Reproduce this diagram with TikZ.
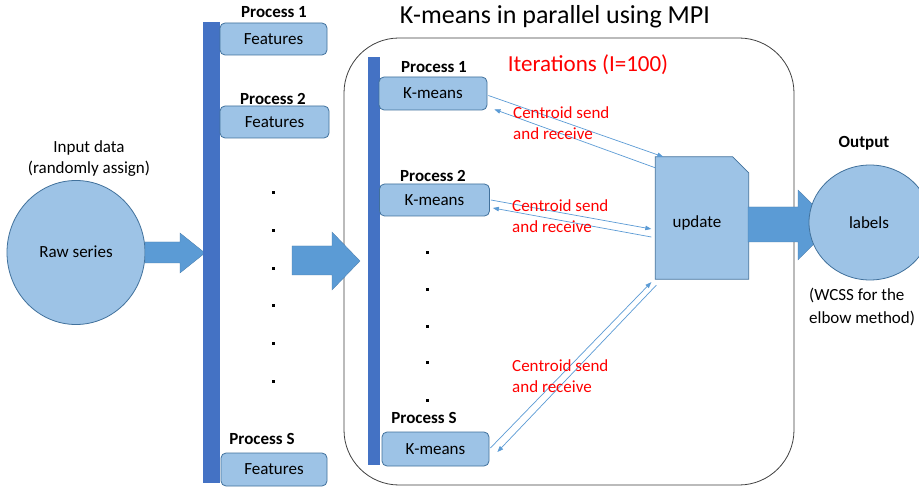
\documentclass[tikz,border=0pt]{standalone}
\usepackage{fontspec}
\setmainfont{Carlito}
\usetikzlibrary{calc,arrows.meta,shapes.geometric}

\definecolor{boxfill}{HTML}{9DC3E6}
\definecolor{boxline}{HTML}{41719C}
\definecolor{barblue}{HTML}{4472C4}
\definecolor{arrowblue}{HTML}{5B9BD5}
\definecolor{labelred}{HTML}{FF0000}

\tikzset{
  txt/.style={font=\fontsize{17}{20}\selectfont, inner sep=0pt},
  proclabel/.style={txt, font=\fontsize{17}{20}\selectfont\bfseries},
  redtxt/.style={txt, text=labelred, align=left, anchor=west},
  procbox/.style={draw=boxline, fill=boxfill, line width=0.8pt, rounded corners=5pt, inner sep=0pt},
  bar/.style={fill=barblue, draw=none},
  blockarrow/.style={fill=arrowblue, draw=arrowblue!80!black, line width=0.3pt},
  msg/.style={draw=arrowblue, line width=0.7pt, -{Triangle[length=6pt,width=4.5pt]}},
  dot/.style={fill=black, draw=none},
  bubble/.style={ellipse, draw=boxline, fill=boxfill, line width=0.8pt, inner sep=0pt}
}

\begin{document}
\begin{tikzpicture}[x=1pt,y=-1pt]
\clip (0,0) rectangle (919,489);
\fill[white] (0,0) rectangle (919,489);

% title
\node[txt, font=\fontsize{26}{30}\selectfont] (title) at (555,17) {K-means in parallel using MPI};

% outer frame of the parallel section
\draw[black!75, line width=0.8pt, rounded corners=55pt] (344,38) rectangle (794,485);

% input
\node[txt, align=center, font=\fontsize{17}{21}\selectfont] (inlabel) at (89,159) {Input data\\(randomly assign)};
\node[bubble, minimum width=138pt, minimum height=144pt] (raw) at (76,252.5) {};
\node[txt] (rawtxt) at (76,252) {Raw series};

% arrow into distribution bar
\draw[blockarrow] (145,242) -- (180,242) -- (180,233) -- (205,253) -- (180,273) -- (180,263) -- (145,263) -- cycle;

% left distribution bar
\fill[bar] (203,22) rectangle (220,483);

% feature boxes
\node[procbox, minimum width=107pt, minimum height=32pt] (f1) at (273.5,39) {};
\node[txt] at (f1) {Features};
\node[proclabel] (pf1) at (274,12) {Process 1};

\node[procbox, minimum width=109pt, minimum height=32pt] (f2) at (274.5,122) {};
\node[txt] at (f2) {Features};
\node[proclabel] (pf2) at (273,99) {Process 2};

\node[procbox, minimum width=106pt, minimum height=33pt] (fs) at (274,469.5) {};
\node[txt] at (fs) {Features};
\node[proclabel] (pfs) at (262,439) {Process S};

% vertical dots (left)
\foreach \yy in {191,229,267,304,342,380}
  \fill[dot] (272,\yy) rectangle (275,\yy+3);

% middle block arrow
\draw[blockarrow] (292,246) -- (332,246) -- (332,232) -- (360,261) -- (332,290) -- (332,275) -- (292,275) -- cycle;

% inner bar
\fill[bar] (368,57) rectangle (380,465);

% k-means boxes
\node[procbox, minimum width=108pt, minimum height=33pt] (km1) at (433,93.5) {};
\node[txt] at (km1) {K-means};
\node[proclabel] (pk1) at (434,67) {Process 1};

\node[procbox, minimum width=110pt, minimum height=32pt] (km2) at (434.5,200) {};
\node[txt] at (km2) {K-means};
\node[proclabel] (pk2) at (433,176) {Process 2};

\node[procbox, minimum width=107pt, minimum height=34pt] (kms) at (435.5,449) {};
\node[txt] at (kms) {K-means};
\node[proclabel] (pks) at (424,418) {Process S};

% vertical dots (inner)
\foreach \yy in {251,288,325,361,399}
  \fill[dot] (426,\yy) rectangle (429,\yy+3);

% iterations label
\node[txt, font=\fontsize{23}{27}\selectfont, text=labelred] (iter) at (588,65) {Iterations (I=100)};

% update block with clipped corner
\node[minimum width=93pt, minimum height=122pt, inner sep=0pt] (upd) at (702,218) {};
\draw[draw=boxline, fill=boxfill, line width=0.8pt]
  (upd.north west) -- ($(upd.north east)+(-16,0)$) -- ($(upd.north east)+(0,16)$)
  -- (upd.south east) -- (upd.south west) -- cycle;
\node[txt] at ($(upd.center)+(-5,5)$) {update};

% centroid exchange
\draw[msg] ($(km1.east)+(1,2)$) -- ($(upd.north west)+(8,0)$);
\draw[msg] ($(upd.north west)+(0,11)$) -- ($(km1.south east)+(7,-1)$);
\draw[msg] ($(km2.east)+(1,0)$) -- ($(upd.west)+(-4,11)$);
\draw[msg] ($(upd.west)+(-4,19)$) -- ($(km2.east)+(3,8)$);
\draw[msg] ($(kms.east)+(1,-1)$) -- ($(upd.south west)+(-4,3)$);
\draw[msg] ($(upd.south west)+(1,6)$) -- ($(kms.east)+(8,3)$);

\node[redtxt, font=\fontsize{17}{20.5}\selectfont] (c1) at (513,123) {Centroid send\\and receive};
\node[redtxt, font=\fontsize{17}{20.5}\selectfont] (c2) at (512,216) {Centroid send\\and receive};
\node[redtxt, font=\fontsize{17}{20.5}\selectfont] (c3) at (512,376) {Centroid send\\and receive};

% output arrow
\draw[blockarrow] (748,207) -- (798,207) -- (798,190) -- (833,224.5) -- (798,260) -- (798,242) -- (748,242) -- cycle;

% output
\node[bubble, minimum width=122pt, minimum height=115pt] (out) at (870,222.5) {};
\node[txt] (outtxt) at (869,223) {labels};
\node[proclabel] (outlabel) at (864,143) {Output};
\node[txt, align=left, anchor=west, font=\fontsize{17}{23}\selectfont] (wcss) at (809,307) {(WCSS for the\\elbow method)};

\end{tikzpicture}
\end{document}
